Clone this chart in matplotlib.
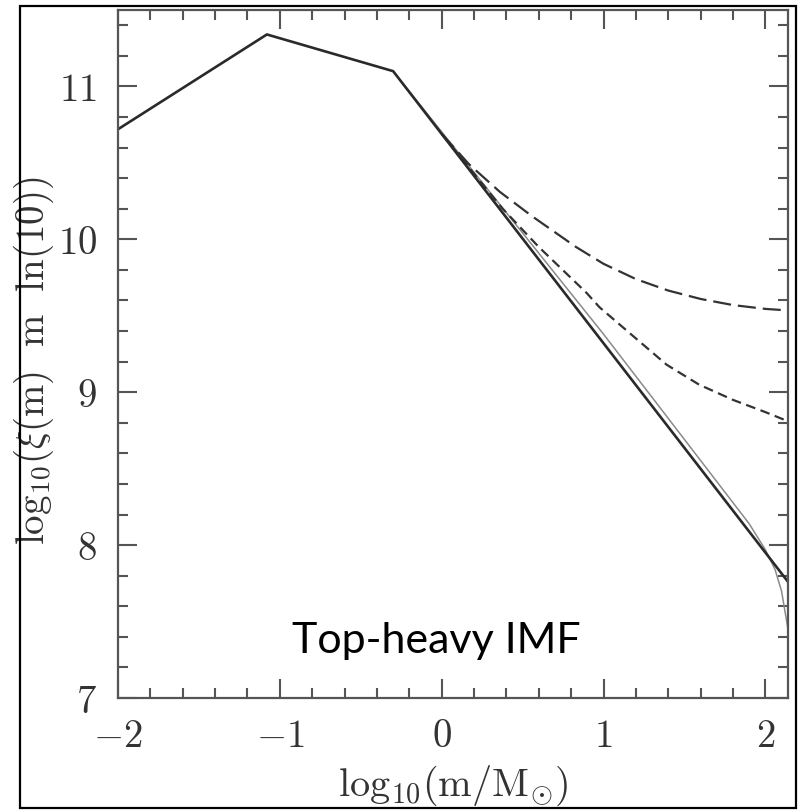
import matplotlib
matplotlib.use("Agg")
import matplotlib.pyplot as plt
from matplotlib.patches import Rectangle
from matplotlib.ticker import MultipleLocator, FuncFormatter

plt.rcParams["mathtext.fontset"] = "cm"
plt.rcParams["lines.scale_dashes"] = False

# ── data ──────────────────────────────────────────────────────────────────────
x_kroupa = [-2.0, -1.08, -0.3, 2.14]
y_kroupa = [10.72, 11.34, 11.10, 7.76]

x_thin = [-0.3, 1.0, 1.9, 2.0, 2.06, 2.10, 2.14]
y_thin = [11.10, 9.38, 8.14, 7.97, 7.84, 7.70, 7.45]

x_short = [0.0, 0.2, 0.377, 0.6, 0.895, 0.975, 1.18, 1.39, 1.59, 1.80, 2.0, 2.14]
y_short = [10.69, 10.43, 10.20, 9.95, 9.65, 9.556, 9.37, 9.18, 9.05, 8.95, 8.87, 8.81]

x_long = [0.0, 0.17, 0.36, 0.56, 0.83, 1.0, 1.2, 1.4, 1.6, 1.8, 2.0, 2.14]
y_long = [10.69, 10.49, 10.31, 10.15, 9.95, 9.84, 9.74, 9.665, 9.61, 9.57, 9.545, 9.535]

x_ticks = [-2, -1, 0, 1, 2]
y_ticks = [7, 8, 9, 10, 11]

# ── figure ────────────────────────────────────────────────────────────────────
fig = plt.figure(figsize=(7.98, 8.10), dpi=100)
ax = fig.add_axes([118 / 798, 112 / 810, 670 / 798, 688 / 810])

ax.plot(x_thin, y_thin, color="#8a8a8a", lw=1.1)
ax.plot(x_short, y_short, color="#333333", lw=1.6, dashes=(7, 4))
ax.plot(x_long, y_long, color="#333333", lw=1.6, dashes=(13, 5))
ax.plot(x_kroupa, y_kroupa, color="#2a2a2a", lw=1.9)

ax.set_xlim(-2, 2.14)
ax.set_ylim(7, 11.5)
ax.set_xticks(x_ticks)
ax.set_yticks(y_ticks)
ax.xaxis.set_minor_locator(MultipleLocator(0.2))
ax.yaxis.set_minor_locator(MultipleLocator(0.2))
cm_fmt = FuncFormatter(lambda v, pos: rf"${v:.0f}$")
ax.xaxis.set_major_formatter(cm_fmt)
ax.yaxis.set_major_formatter(cm_fmt)

ax.tick_params(which="both", direction="in", top=True, right=True,
               color="#555555", width=1.5, labelsize=28, labelcolor="#333333")
ax.tick_params(which="major", length=14)
ax.tick_params(which="minor", length=7)
ax.tick_params(axis="x", pad=14)
ax.tick_params(axis="y", pad=15)
for sp in ax.spines.values():
    sp.set_color("#555555")
    sp.set_linewidth(1.6)

ax.set_xlabel(r"$\mathrm{log_{10}(m/M_{\odot})}$", fontsize=29, color="#333333")
ax.set_ylabel(r"$\mathrm{log_{10}(\xi(m)\ \ m\ \ ln(10))}$", fontsize=28, color="#333333")
ax.xaxis.set_label_coords(0.5, -0.095)
ax.yaxis.set_label_coords(-0.093, 0.49)

ax.text(0.475, 0.065, "Top-heavy IMF", transform=ax.transAxes, fontsize=31,
        family="Lato", color="black", ha="center", va="baseline")

# outer frame
fig.add_artist(Rectangle((20 / 798, 2 / 810), 776 / 798, 802 / 810,
                         transform=fig.transFigure, fill=False,
                         edgecolor="black", linewidth=1.6))

fig.savefig("out.png", dpi=100)
plt.close(fig)
